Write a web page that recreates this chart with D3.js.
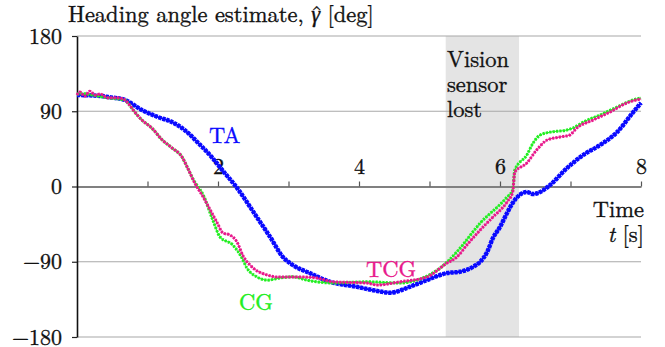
<!DOCTYPE html>
<html>
<head>
<meta charset="utf-8">
<script src="https://cdn.jsdelivr.net/npm/d3@7"></script>
<style>
  html, body { margin: 0; padding: 0; background: #fff; }
</style>
</head>
<body>
<svg id="chart" width="665" height="347"></svg>
<script>
// Time samples (s) and heading estimates (deg) for each estimator
const taTime = [0, 0.33, 0.44, 0.68, 0.92, 1.15, 1.35, 1.53, 1.72, 1.91, 2.06, 2.26, 2.55, 2.74, 2.92, 3.06, 3.30, 3.59, 3.97, 4.20, 4.44, 4.72, 4.96, 5.25, 5.43, 5.62, 5.72, 5.82, 5.90, 6.00, 6.10, 6.18, 6.28, 6.38, 6.47, 6.57, 6.71, 6.95, 7.18, 7.42, 7.66, 7.89, 8.0];
const taAngle = [109.4, 108.3, 107, 103.5, 91.5, 83, 77, 67.3, 52, 35.3, 19.7, -0.6, -36.5, -60.4, -84.3, -93.9, -103.5, -114, -120, -124, -127, -120, -112, -103.5, -102, -96, -90, -78, -61.6, -48.4, -31.7, -19.7, -10, -6.6, -9, -6.6, 1.8, 22, 37.7, 49.6, 65, 89, 100];

const cgTime = [0, 0.11, 0.18, 0.44, 0.68, 0.72, 0.82, 0.92, 1.06, 1.21, 1.35, 1.49, 1.57, 1.67, 1.70, 1.79, 1.91, 2.03, 2.21, 2.34, 2.41, 2.55, 2.70, 2.88, 3.06, 3.26, 3.40, 3.63, 4.11, 4.58, 4.82, 5.25, 5.39, 5.72, 6.10, 6.18, 6.21, 6.38, 6.47, 6.57, 6.71, 6.95, 7.04, 7.18, 7.42, 7.66, 7.89, 8.0];
const cgAngle = [110.6, 111, 110, 106, 103.5, 100, 89, 79.5, 70, 55.6, 46, 35.3, 22, 5.4, 1.8, -10, -36.5, -60.4, -70, -85.5, -97.5, -108, -112, -109.4, -108, -112, -114, -115.4, -114, -115.4, -112, -90.3, -78, -43.7, -12.6, -4.2, 19.7, 37.7, 52, 61.6, 65, 67.6, 70, 77, 85.5, 95, 103.5, 105.9];

const tcgTime = [0, 0.04, 0.11, 0.18, 0.26, 0.33, 0.44, 0.58, 0.68, 0.72, 0.82, 0.92, 1.06, 1.21, 1.35, 1.49, 1.57, 1.67, 1.79, 1.89, 1.99, 2.07, 2.17, 2.27, 2.35, 2.50, 2.70, 2.84, 3.02, 3.21, 3.40, 3.63, 4.11, 4.26, 4.58, 4.96, 5.25, 5.39, 5.53, 5.72, 5.90, 6.10, 6.18, 6.21, 6.38, 6.52, 6.67, 6.85, 6.99, 7.09, 7.32, 7.56, 7.80, 8.0];
const tcgAngle = [109.4, 113, 108, 114, 109.4, 110.6, 106, 106, 103.5, 100, 89, 79.5, 70, 55.6, 46, 35.3, 22, 4.2, -12.6, -28, -43.7, -55.6, -58, -66.4, -82, -97.5, -105.9, -108.3, -108.3, -108.3, -109.4, -114, -115.4, -117.8, -114, -108.3, -91.5, -84.3, -70, -52, -36.5, -18.5, -6.6, 17.3, 28, 43.7, 55.6, 59.2, 61.6, 70, 79.5, 89, 100, 104.7];

// Interval with no vision measurements (s)
const visionLost = [5.23, 6.27];

const yTicks = [-180, -90, 0, 90, 180];
const xTicks = [1, 2, 3, 4, 5, 6, 7, 8];
const xLabelled = [2, 4, 6, 8];

const BLUE = "#0a0aff", GREEN = "#22ee22", PINK = "#e8198c";
const FONT = "Latin Modern Roman";
const FS = 22.5;

const svg = d3.select("#chart");
const x = d3.scaleLinear().domain([0, 8]).range([77, 641]);
const y = d3.scaleLinear().domain([-180, 180]).range([337, 36]);

// shaded interval
svg.append("rect")
  .attr("x", x(visionLost[0])).attr("y", y(180))
  .attr("width", x(visionLost[1]) - x(visionLost[0]))
  .attr("height", y(-180) - y(180))
  .attr("fill", "#e4e4e4");

// horizontal grid
svg.append("g").selectAll("line")
  .data(yTicks.filter(v => v !== 0))
  .join("line")
  .attr("x1", x(0)).attr("x2", x(8))
  .attr("y1", d => y(d)).attr("y2", d => y(d))
  .attr("stroke", "#a8a8a8").attr("stroke-width", 1.2);

// slightly heavier glyphs
const ink = sel => sel.attr("stroke", "#111").attr("stroke-width", 0.35);

// time axis through zero
const xAxis = svg.append("g")
  .attr("transform", `translate(0,${y(0)})`)
  .call(d3.axisTop(x).tickValues(xTicks).tickSize(5).tickSizeOuter(0).tickPadding(8)
    .tickFormat(d => xLabelled.includes(d) ? d : ""))
  .attr("font-family", FONT).attr("font-size", 22);
xAxis.select(".domain").attr("stroke", "#808080").attr("stroke-width", 1.8);
xAxis.selectAll(".tick line").attr("stroke", "#555").attr("stroke-width", 1.2);
xAxis.selectAll(".tick text").attr("fill", "#111").call(ink);

// angle axis
const yAxis = svg.append("g")
  .attr("transform", `translate(${x(0)},0)`)
  .call(d3.axisLeft(y).tickValues(yTicks).tickSize(5).tickSizeOuter(0).tickPadding(10))
  .attr("font-family", FONT).attr("font-size", 22);
yAxis.select(".domain").attr("stroke", "#111").attr("stroke-width", 1.6);
yAxis.selectAll(".tick line").attr("stroke", "#222").attr("stroke-width", 1.2);
yAxis.selectAll(".tick text").attr("fill", "#111").call(ink);

const line = d3.line().x(d => x(d[0])).y(d => y(d[1])).curve(d3.curveMonotoneX);

function series(times, angles, color, coreW, dotW, dash) {
  const pts = times.map((t, i) => [t, angles[i]]);
  const g = svg.append("g");
  g.append("path").attr("d", line(pts)).attr("fill", "none")
    .attr("stroke", color).attr("stroke-width", coreW);
  g.append("path").attr("d", line(pts)).attr("fill", "none")
    .attr("stroke", color).attr("stroke-width", dotW)
    .attr("stroke-dasharray", dash);
}

series(taTime, taAngle, BLUE, 2, 4.5, "3.2 0.9");
series(cgTime, cgAngle, GREEN, 1, 3, "2.2 1.2");
series(tcgTime, tcgAngle, PINK, 1, 3, "2.2 1.2");

// text
const txt = (s, px, py, opts = {}) => svg.append("text")
  .attr("x", px).attr("y", py)
  .attr("font-family", FONT).attr("font-size", opts.size || FS)
  .attr("fill", opts.fill || "#111")
  .attr("stroke", opts.fill || "#111").attr("stroke-width", 0.35)
  .attr("text-anchor", opts.anchor || "start").text(s);

const title = txt("", 68, 22);
title.append("tspan").text("Heading angle estimate, ");
title.append("tspan").attr("font-style", "italic").text("γ");
title.append("tspan").text(" [deg]");
// hat accent over gamma
const idx = "Heading angle estimate, ".length;
const ext = title.node().getExtentOfChar(idx);
txt("ˆ", ext.x + ext.width / 2 + 1, 22, { anchor: "middle" });

txt("Vision", 447, 67);
txt("sensor", 447, 92);
txt("lost", 447, 117);

txt("Time", 644, 217, { anchor: "end" });
const tl = txt("", 644, 242, { anchor: "end" });
tl.append("tspan").attr("font-style", "italic").text("t");
tl.append("tspan").text(" [s]");

txt("TA", 209, 143, { fill: BLUE });
txt("CG", 239, 310, { fill: GREEN });
txt("TCG", 366, 277, { fill: PINK });
</script>
</body>
</html>
